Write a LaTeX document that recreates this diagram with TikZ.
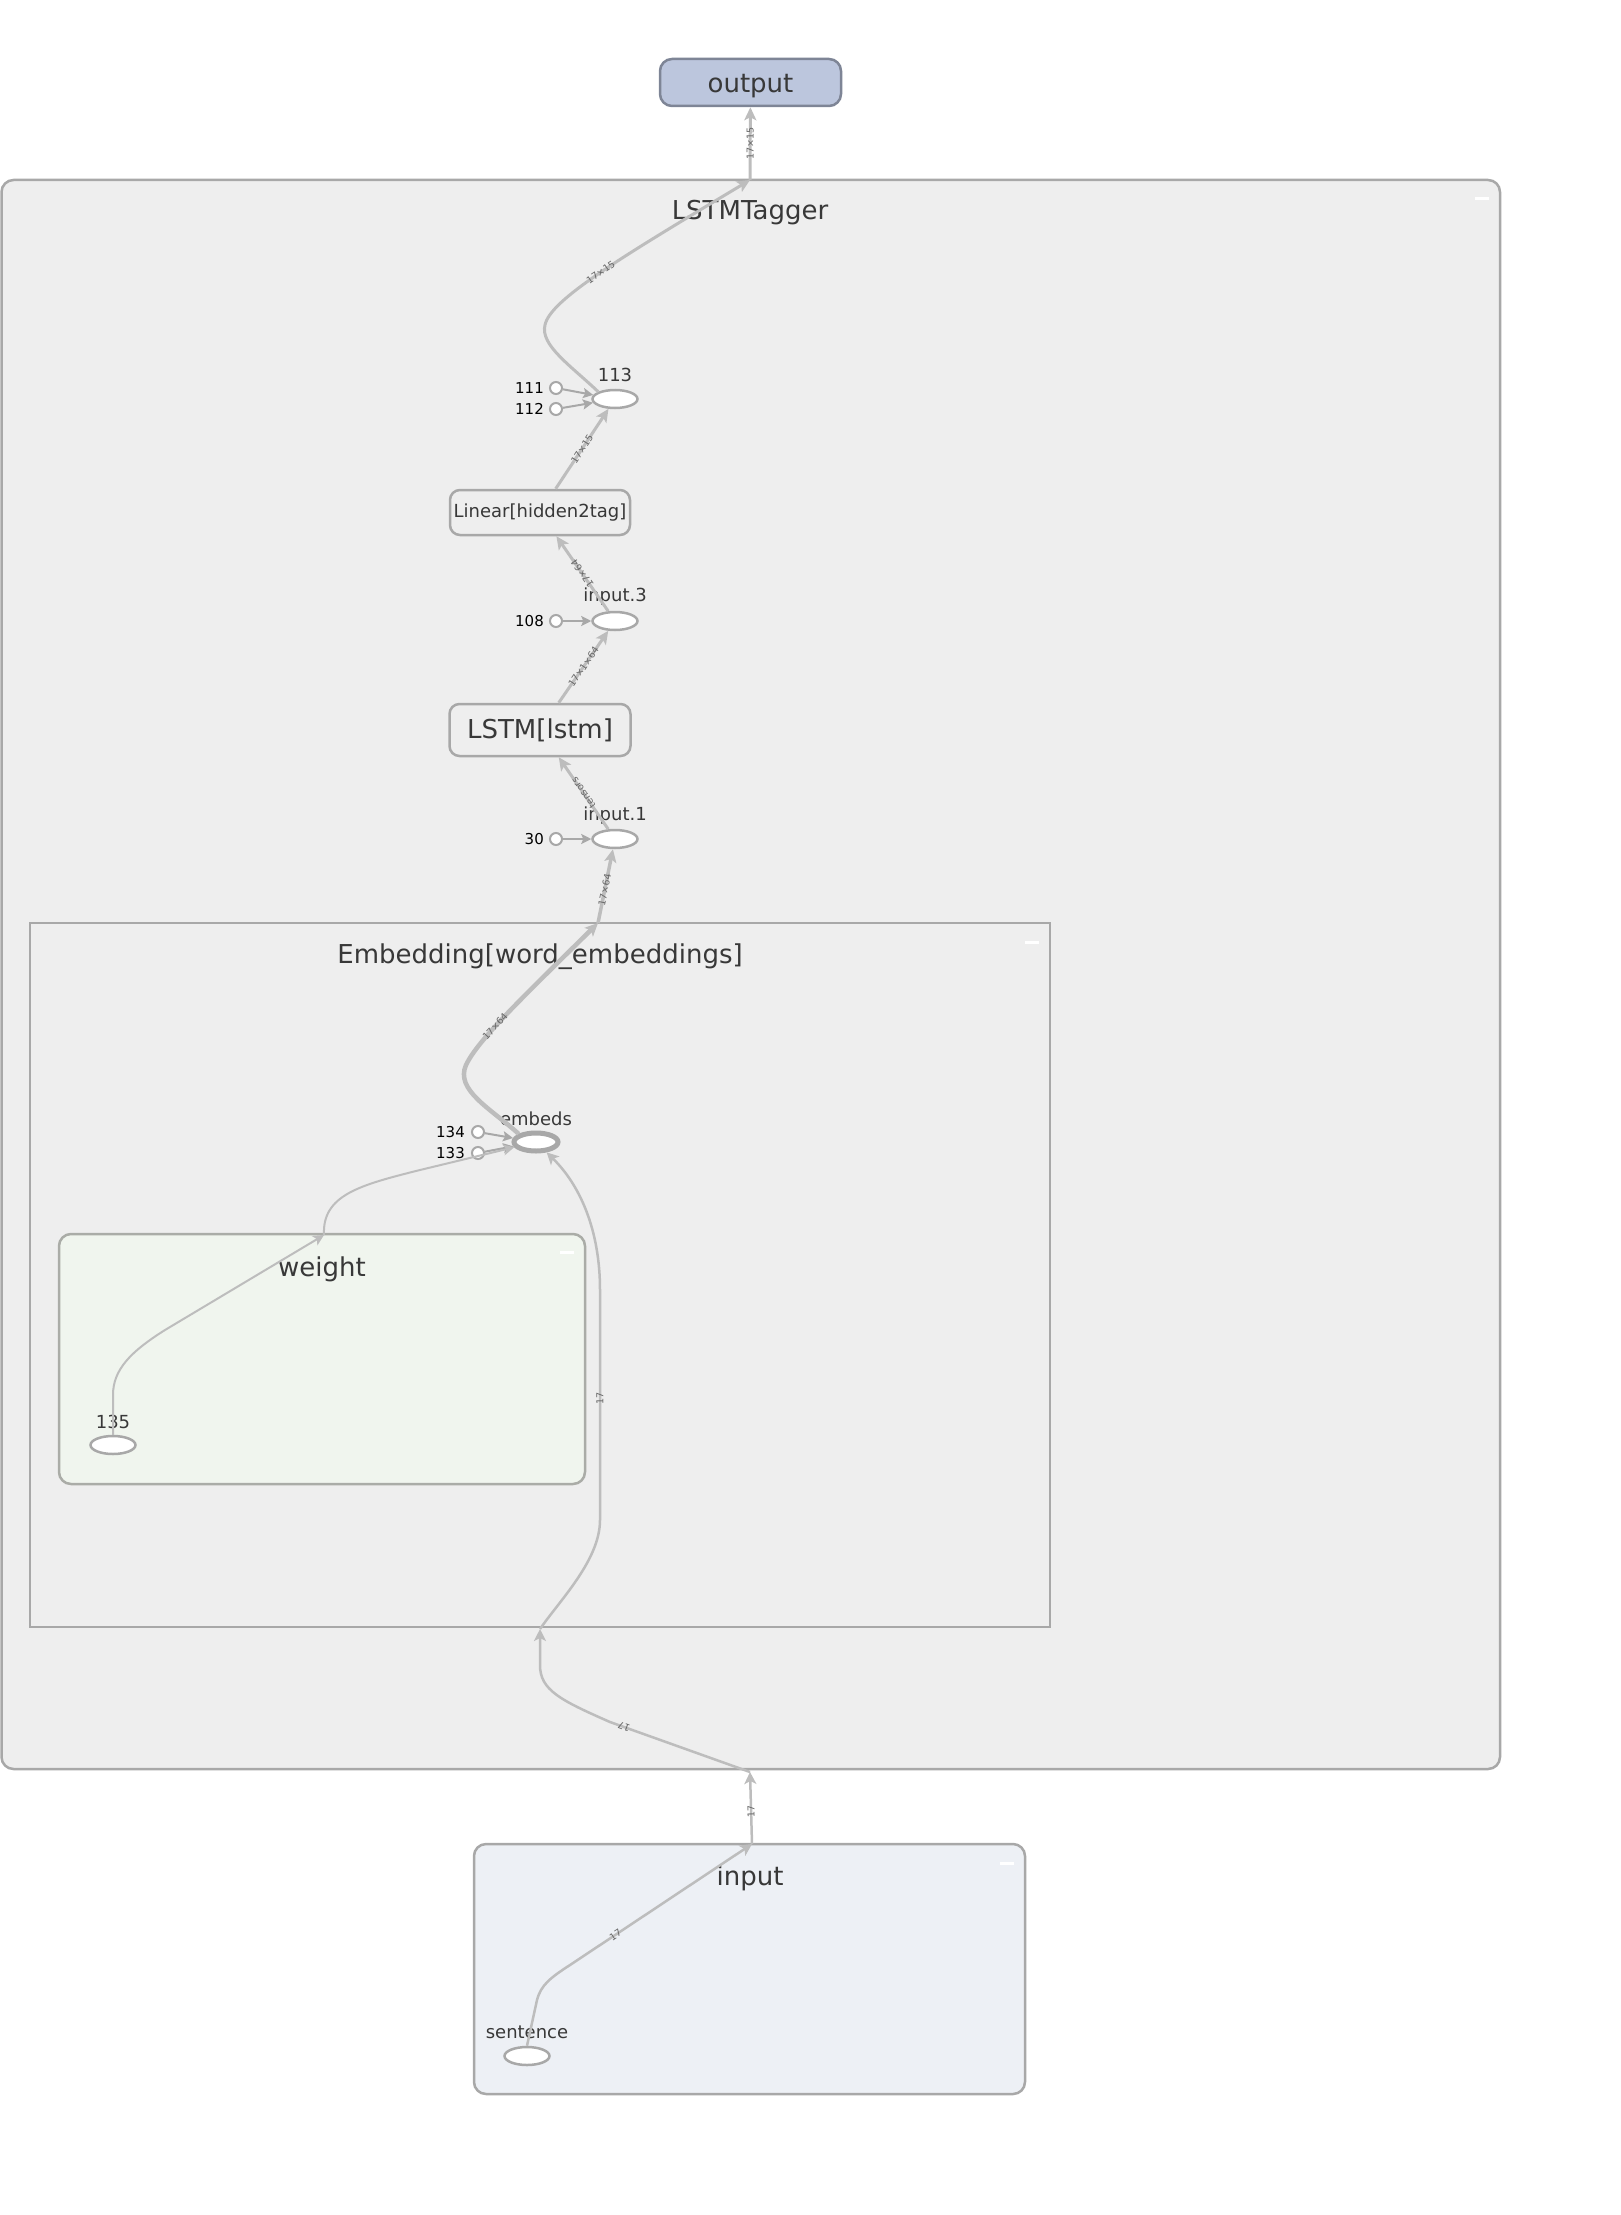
\documentclass[tikz,border=0pt]{standalone}
\usepackage{fontspec}
\setmainfont{DejaVu Sans}
\usetikzlibrary{arrows.meta,shapes.geometric}

\definecolor{groupfill}{HTML}{EEEEEE}
\definecolor{groupline}{HTML}{A8A8A8}
\definecolor{weightfill}{HTML}{F0F5EE}
\definecolor{weightline}{HTML}{AAACA7}
\definecolor{inputfill}{HTML}{EDF0F5}
\definecolor{outfill}{HTML}{BCC6DD}
\definecolor{outdraw}{HTML}{7E8596}
\definecolor{edgegrey}{HTML}{BDBDBD}
\definecolor{textgrey}{HTML}{383838}
\definecolor{labelgrey}{HTML}{666666}

\tikzset{
  txtbig/.style={font=\fontsize{26}{31}\selectfont, text=textgrey, inner sep=0pt},
  txtmid/.style={font=\fontsize{18}{22}\selectfont, text=textgrey, inner sep=0pt},
  txtsmall/.style={font=\fontsize{15}{18}\selectfont, text=black, inner sep=0pt, anchor=east},
  group/.style={rectangle, draw=groupline, fill=groupfill, line width=2.5pt,
    rounded corners=12pt, inner sep=0pt},
  modbox/.style={rectangle, draw=groupline, fill=groupfill, line width=2.5pt,
    rounded corners=10pt, inner sep=0pt, text=textgrey},
  opnode/.style={ellipse, draw=groupline, fill=white, line width=2.5pt,
    minimum width=45pt, minimum height=18pt, inner sep=0pt},
  constnode/.style={circle, draw=groupline, fill=white, line width=2pt,
    minimum size=12pt, inner sep=0pt},
  flow/.style={draw=edgegrey, line width=3pt,
    -{Stealth[length=13pt,width=12pt,inset=3pt]}},
  thickflow/.style={flow, line width=4.5pt},
  lightflow/.style={draw=edgegrey, line width=2.5pt,
    -{Stealth[length=12pt,width=12pt,inset=3pt]}},
  thinflow/.style={draw=edgegrey, line width=2pt,
    -{Stealth[length=11pt,width=11pt,inset=3pt]}},
  constflow/.style={draw=groupline, line width=2pt,
    -{Stealth[length=10pt,width=10pt,inset=2pt]}},
  elabel/.style={font=\fontsize{9.5}{11}\selectfont, text=labelgrey,
    sloped, allow upside down, inner sep=0pt},
  collapse/.style={draw=white, line width=3pt}
}

\begin{document}
\begin{tikzpicture}[x=1pt,y=-1pt]
\useasboundingbox (0,0) rectangle (1620,2215);

% ---- groups ----
\node[group, minimum width=1498.5pt, minimum height=1589pt] (tagger) at (750.75,974.5) {};
\node[txtbig] (taggerlbl) at (750,213) {LSTMTagger};
\draw[collapse] (1475,199) -- (1489,199);

\node[group, rounded corners=0pt, minimum width=1020pt, minimum height=704pt] (embgroup) at (540,1275) {};
\node[txtbig] (emblbl) at (540,957) {Embedding[word\_embeddings]};
\draw[collapse] (1025,942) -- (1039,942);

\node[group, fill=weightfill, draw=weightline, minimum width=526pt, minimum height=250pt] (weightgroup) at (322,1359) {};
\node[txtbig] (weightlbl) at (322,1269) {weight};
\draw[collapse] (560,1252) -- (574,1252);

\node[group, fill=inputfill, minimum width=551pt, minimum height=250pt] (inputgroup) at (749.5,1969) {};
\node[txtbig] (inputlbl) at (750,1878) {input};
\draw[collapse] (1000,1863) -- (1014,1863);

% ---- output ----
\node[rectangle, rounded corners=12pt, draw=outdraw, fill=outfill, line width=2.5pt,
      minimum width=181pt, minimum height=47pt, inner sep=0pt] (out) at (750.5,82.5) {};
\node[txtbig] (outlbl) at (750.5,86) {output};

% ---- ports on group borders ----
\coordinate (tagtop) at (750,180);
\coordinate (tagbot) at (750,1772);
\coordinate (embtop) at (598,923);
\coordinate (embbot) at (540,1629);
\coordinate (wtop) at (324,1235);
\coordinate (intop) at (752,1844);

% ---- operations inside LSTMTagger ----
\node[opnode] (op113) at (615,399) {};
\node[txtmid] (op113lbl) at (615,375) {113};
\node[constnode] (c111) at (556,388) {};
\node[txtsmall] (c111lbl) at (544,388) {111};
\node[constnode] (c112) at (556,409) {};
\node[txtsmall] (c112lbl) at (544,409) {112};

\node[modbox, minimum width=180pt, minimum height=45pt, font=\fontsize{18}{22}\selectfont] (lin) at (540,512.5) {Linear[hidden2tag]};

\node[opnode] (ip3) at (615,621) {};
\node[txtmid] (ip3lbl) at (615,597) {input.3};
\node[constnode] (c108) at (556,621) {};
\node[txtsmall] (c108lbl) at (544,621) {108};

\node[modbox, minimum width=181pt, minimum height=52pt, font=\fontsize{26}{31}\selectfont] (lstm) at (540,730) {LSTM[lstm]};

\node[opnode] (ip1) at (615,839) {};
\node[txtmid] (ip1lbl) at (615,816) {input.1};
\node[constnode] (c30) at (556,839) {};
\node[txtsmall] (c30lbl) at (544,839) {30};

% ---- inside Embedding ----
\node[opnode, line width=5pt, minimum width=44pt, minimum height=18pt] (embeds) at (536,1142) {};
\node[txtmid] (embedslbl) at (536,1119) {embeds};
\node[constnode] (c134) at (478,1132) {};
\node[txtsmall] (c134lbl) at (465,1132) {134};
\node[constnode] (c133) at (478,1153) {};
\node[txtsmall] (c133lbl) at (465,1153) {133};

\node[opnode] (op135) at (113,1445) {};
\node[txtmid] (op135lbl) at (113,1422) {135};

% ---- input ----
\node[opnode] (sentence) at (527,2056) {};
\node[txtmid] (sentencelbl) at (527,2032) {sentence};

% ---- connectors ----
\draw[flow] (tagtop) -- node[elabel, pos=0.5] {17×15} (out);
\draw[flow] (op113.north west) .. controls (570,365) and (540,345) .. (545,325)
  .. controls (550,300) and (620,258) .. node[elabel, pos=0.5] {17×15} (tagtop);
\draw[flow] (lin) -- node[elabel, pos=0.5] {17×15} (op113);
\draw[constflow] (c111) -- (op113);
\draw[constflow] (c112) -- (op113);

\draw[flow] (ip3) -- node[elabel, pos=0.5] {17×64} (lin);
\draw[constflow] (c108) -- (ip3);
\draw[flow] (lstm) -- node[elabel, pos=0.5] {17×1×64} (ip3);
\draw[flow] (ip1) -- node[elabel, pos=0.5] {tensors} (lstm);
\draw[constflow] (c30) -- (ip1);

\draw[thickflow, line width=3.5pt] (embtop) -- node[elabel, pos=0.45] {17×64} (ip1);
\draw[thickflow] (embeds.north west) .. controls (490,1108) and (455,1090) .. (466,1065)
  .. controls (478,1040) and (520,1000) .. node[elabel, pos=0.4] {17×64} (embtop);
\draw[constflow] (c134) -- (embeds);
\draw[constflow] (c133) -- (embeds);

\draw[thinflow] (wtop) .. controls (322,1195) and (360,1185) .. (420,1170) -- (embeds);
\draw[thinflow] (op135.north) -- (113,1395) .. controls (113,1370) and (130,1352) .. (165,1330) -- (wtop);

\draw[lightflow] (tagbot) -- node[elabel, pos=0.9] {17} (610,1722)
  .. controls (560,1700) and (540,1690) .. (540,1665) -- (embbot);
\draw[lightflow] (embbot) .. controls (560,1600) and (600,1560) .. (600,1520)
  -- node[elabel, pos=0.53] {17} (600,1290) .. controls (600,1230) and (580,1185) .. (embeds);

\draw[lightflow] (intop) -- node[elabel, pos=0.45] {17} (tagbot);
\draw[lightflow] (sentence.north) -- (537,2000) .. controls (541,1985) and (550,1978) .. (570,1965)
  -- node[elabel, pos=0.25] {17} (intop);
\end{tikzpicture}
\end{document}
